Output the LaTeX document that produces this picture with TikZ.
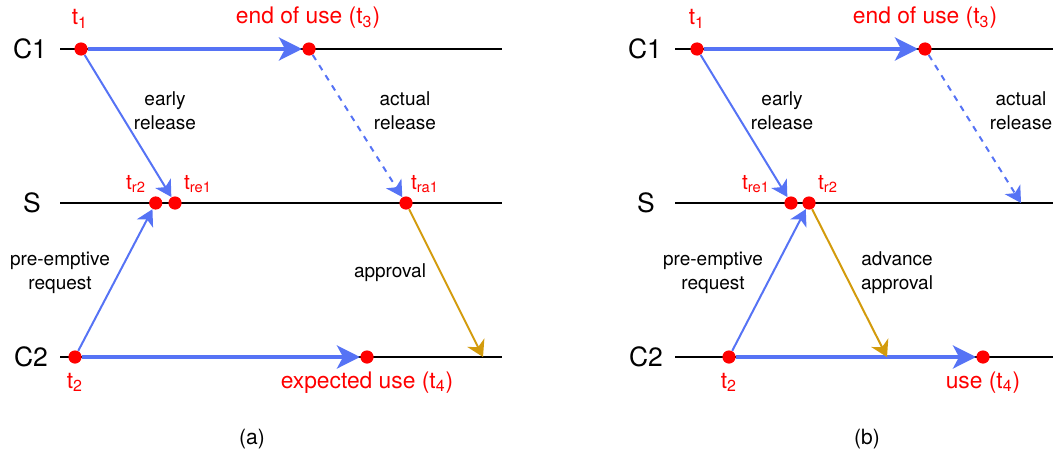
\documentclass[tikz,border=0pt]{standalone}
\usepackage{fontspec}
\setmainfont{TeX Gyre Heros}
\usetikzlibrary{arrows.meta}
\definecolor{msgBlue}{HTML}{5673F5}
\definecolor{grantGold}{HTML}{D39B0C}
\definecolor{markRed}{HTML}{FF0000}

\begin{document}
\begin{tikzpicture}[x=0.5pt,y=-0.5pt,>=Stealth]
  \tikzstyle{lifeLine}=[draw=black,line width=1pt]
  \tikzstyle{eventDot}=[circle,fill=markRed,inner sep=0pt,minimum size=6.6pt]
  \tikzstyle{procLabel}=[font=\fontsize{13.25}{15}\selectfont]
  \tikzstyle{timeLabel}=[text=markRed,anchor=base,inner sep=0pt,font=\fontsize{11.4}{13}\selectfont]
  \tikzstyle{subLabel}=[text=markRed,anchor=base,inner sep=0pt,font=\fontsize{10.5}{12}\selectfont]
  \tikzstyle{msgLabel}=[align=center,inner sep=0pt,font=\fontsize{9.5}{12}\selectfont]
  \tikzstyle{useArrow}=[draw=msgBlue,line width=1.85pt,-{Stealth[length=11.5pt,width=11.5pt,inset=3pt]}]
  \tikzstyle{msgArrow}=[draw=msgBlue,line width=1pt,-{Stealth[length=8pt,width=9pt,inset=2.2pt]}]
  \tikzstyle{grantArrow}=[draw=grantGold,line width=1pt,-{Stealth[length=8pt,width=9.5pt,inset=2.5pt]}]
  \useasboundingbox (0,0) rectangle (1053,455);

  % (a) lifelines
  \coordinate (aC1w) at (60,49);  \coordinate (aC1e) at (502,49);
  \coordinate (aSw) at (60,203);  \coordinate (aSe) at (502,203);
  \coordinate (aC2w) at (60,357); \coordinate (aC2e) at (502,357);
  \draw[lifeLine] (aC1w) -- (aC1e);
  \draw[lifeLine] (aSw) -- (aSe);
  \draw[lifeLine] (aC2w) -- (aC2e);
  \node[procLabel] (aC1) at (30,49) {C1};
  \node[procLabel] (aS) at (32,203) {S};
  \node[procLabel] (aC2) at (31,357) {C2};

  % (a) events
  \node[eventDot] (aT1) at (81,49) {};
  \node[eventDot] (aT3) at (309,49) {};
  \node[eventDot] (aR2) at (155.7,203) {};
  \node[eventDot] (aRE1) at (175,203) {};
  \node[eventDot] (aRA1) at (406,203) {};
  \node[eventDot] (aT2) at (75,357) {};
  \node[eventDot] (aT4) at (367,357) {};
  \coordinate (aGrant) at (483,357);

  \draw[useArrow] (aT1) -- (aT3);
  \draw[useArrow] (aT2) -- (aT4);
  \draw[msgArrow] (aT1) -- (aRE1);
  \draw[msgArrow,dashed] (aT3) -- (aRA1);
  \draw[msgArrow] (aT2) -- (aR2);
  \draw[grantArrow] (aRA1) -- (aGrant);

  \node[timeLabel] (aT1lab) at (80,25) {t\textsubscript{1}};
  \node[timeLabel] (aT3lab) at (308,24) {end of use (t\textsubscript{3})};
  \node[subLabel] (aR2lab) at (136,189) {t\textsubscript{r2}};
  \node[subLabel] (aRE1lab) at (198,189) {t\textsubscript{re1}};
  \node[subLabel] (aRA1lab) at (425,189) {t\textsubscript{ra1}};
  \node[timeLabel] (aT2lab) at (75,388) {t\textsubscript{2}};
  \node[timeLabel] (aT4lab) at (367,388) {expected use (t\textsubscript{4})};
  \node[msgLabel] (aEarly) at (165,111) {early\\release};
  \node[msgLabel] (aActual) at (405,111) {actual\\release};
  \node[msgLabel] (aPre) at (60,273) {pre-emptive\\request};
  \node[msgLabel,anchor=base] (aAppr) at (390,277) {approval};
  \node[anchor=base,font=\fontsize{10.5}{12}\selectfont] (capA) at (252,444) {(a)};

  % (b) lifelines
  \coordinate (bC1w) at (675,49);  \coordinate (bC1e) at (1053,49);
  \coordinate (bSw) at (675,203);  \coordinate (bSe) at (1053,203);
  \coordinate (bC2w) at (675,357); \coordinate (bC2e) at (1053,357);
  \draw[lifeLine] (bC1w) -- (bC1e);
  \draw[lifeLine] (bSw) -- (bSe);
  \draw[lifeLine] (bC2w) -- (bC2e);
  \node[procLabel] (bC1) at (645,49) {C1};
  \node[procLabel] (bS) at (646,203) {S};
  \node[procLabel] (bC2) at (646,357) {C2};

  % (b) events
  \node[eventDot] (bT1) at (697,49) {};
  \node[eventDot] (bT3) at (925,49) {};
  \node[eventDot] (bRE1) at (791,203) {};
  \node[eventDot] (bR2) at (809,203) {};
  \node[eventDot] (bT2) at (729,357) {};
  \node[eventDot] (bT4) at (983,357) {};
  \coordinate (bRel) at (1021,203);
  \coordinate (bGrant) at (887,357);

  \draw[useArrow] (bT1) -- (bT3);
  \draw[useArrow] (bT2) -- (bT4);
  \draw[msgArrow] (bT1) -- (bRE1);
  \draw[msgArrow,dashed] (bT3) -- (bRel);
  \draw[msgArrow] (bT2) -- (bR2);
  \draw[grantArrow] (bR2) -- (bGrant);

  \node[timeLabel] (bT1lab) at (697,25) {t\textsubscript{1}};
  \node[timeLabel] (bT3lab) at (925,24) {end of use (t\textsubscript{3})};
  \node[subLabel] (bRE1lab) at (756,189) {t\textsubscript{re1}};
  \node[subLabel] (bR2lab) at (828,189) {t\textsubscript{r2}};
  \node[timeLabel] (bT2lab) at (729,388) {t\textsubscript{2}};
  \node[timeLabel] (bT4lab) at (983,388) {use (t\textsubscript{4})};
  \node[msgLabel] (bEarly) at (782,111) {early\\release};
  \node[msgLabel] (bActual) at (1021,111) {actual\\release};
  \node[msgLabel] (bPre) at (713,273) {pre-emptive\\request};
  \node[msgLabel] (bAdv) at (897,273) {advance\\approval};
  \node[anchor=base,font=\fontsize{10.5}{12}\selectfont] (capB) at (867,444) {(b)};
\end{tikzpicture}
\end{document}
